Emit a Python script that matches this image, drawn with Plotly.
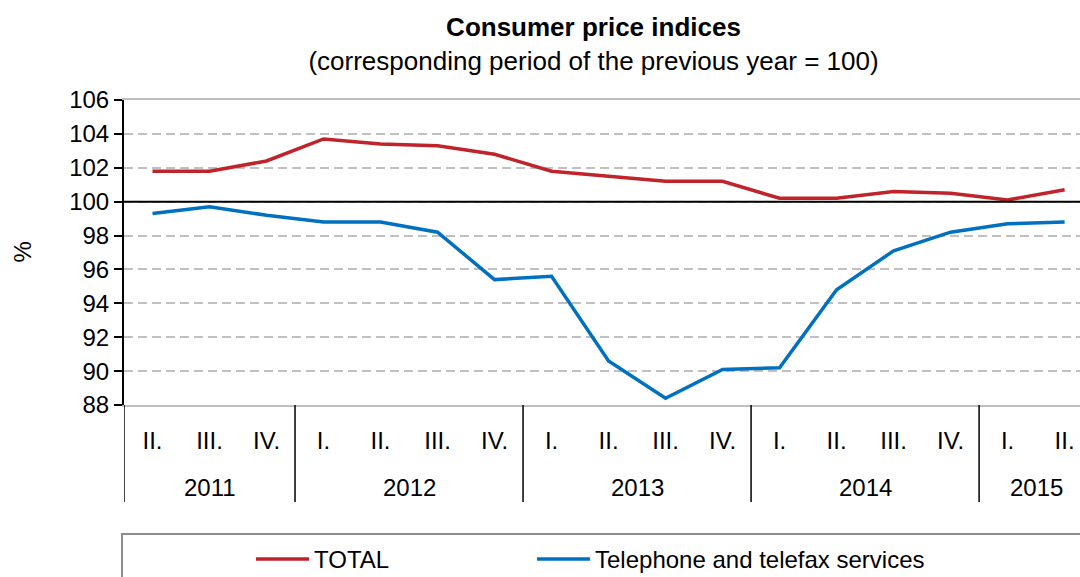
import plotly.graph_objects as go

years = ["2011"] * 3 + ["2012"] * 4 + ["2013"] * 4 + ["2014"] * 4 + ["2015"] * 2
quarters = ["II.", "III.", "IV.",
            "I.", "II.", "III.", "IV.",
            "I.", "II.", "III.", "IV.",
            "I.", "II.", "III.", "IV.",
            "I.", "II."]
total = [101.8, 101.8, 102.4,
         103.7, 103.4, 103.3, 102.8,
         101.8, 101.5, 101.2, 101.2,
         100.2, 100.2, 100.6, 100.5,
         100.1, 100.7]
telephone = [99.3, 99.7, 99.2,
             98.8, 98.8, 98.2, 95.4,
             95.6, 90.6, 88.4, 90.1,
             90.2, 94.8, 97.1, 98.2,
             98.7, 98.8]
y_ticks = list(range(88, 107, 2))

FONT = "Liberation Sans, Arial, sans-serif"
FS = 24
RED = "#C1232B"
BLUE = "#0070C0"

W, H = 1080, 577
PLOT_L, PLOT_T, PLOT_B = 124, 100, 405
PH = PLOT_B - PLOT_T
PW = W - PLOT_L

idx = list(range(len(quarters)))

fig = go.Figure()
fig.add_trace(go.Scatter(x=idx, y=total, mode="lines", name="TOTAL",
                         line=dict(color=RED, width=3.5), legend="legend"))
fig.add_trace(go.Scatter(x=idx, y=telephone, mode="lines",
                         name="Telephone and telefax services",
                         line=dict(color=BLUE, width=3.5), legend="legend2"))

# year groups: dividers and labels
groups = []
for i, yv in enumerate(years):
    if not groups or groups[-1][0] != yv:
        groups.append([yv, i, i])
    else:
        groups[-1][2] = i

div_bottom = -97 / PH
for yv, i0, i1 in groups:
    fig.add_shape(type="line", xref="x", yref="paper", x0=i0 - 0.5, x1=i0 - 0.5,
                  y0=0, y1=div_bottom, line=dict(color="black", width=1.5))
    fig.add_annotation(x=(i0 + i1) / 2, xref="x", y=-82 / PH, yref="paper",
                       text=yv, showarrow=False, xanchor="center", yanchor="middle",
                       font=dict(family=FONT, size=FS, color="black"))

# reference line at 100
fig.add_shape(type="line", xref="paper", x0=0, x1=1, yref="y", y0=100, y1=100,
              line=dict(color="black", width=2), layer="above")
# legend frame
fig.add_shape(type="rect", xref="paper", yref="paper",
              x0=-2 / PW, x1=1.02, y0=-0.7, y1=-129 / PH,
              line=dict(color="#8C8C8C", width=2), fillcolor="rgba(0,0,0,0)")

# y-axis title
fig.add_annotation(x=-(124 - 22) / PW, xref="paper", y=0.5, yref="paper", text="%",
                   textangle=-90, showarrow=False, xanchor="center", yanchor="middle",
                   font=dict(family=FONT, size=FS, color="black"))

leg_common = dict(orientation="h", yanchor="top", y=-132 / PH, xanchor="left",
                  font=dict(family=FONT, size=FS, color="black"), itemwidth=53,
                  bgcolor="rgba(0,0,0,0)", borderwidth=0)

fig.update_layout(
    width=W, height=H,
    paper_bgcolor="white", plot_bgcolor="white",
    margin=dict(l=PLOT_L, r=0, t=PLOT_T, b=H - PLOT_B, autoexpand=False),
    font=dict(family=FONT, size=FS, color="black"),
    title=dict(text="<b>Consumer price indices</b><br>(corresponding period of the previous year = 100)",
               x=593.5 / W, xanchor="center", xref="container",
               y=1 - 36 / H, yanchor="top", yref="container", automargin=False,
               font=dict(family=FONT, size=26, color="black")),
    showlegend=True,
    legend=dict(x=(257 - 6 - PLOT_L) / PW, **leg_common),
    legend2=dict(x=(538 - 6 - PLOT_L) / PW, **leg_common),
    xaxis=dict(range=[-0.5, 16.27], automargin=False,
               tickvals=idx, ticktext=quarters,
               showline=True, linecolor="#BFBFBF", linewidth=2, mirror=True,
               showgrid=False, zeroline=False,
               ticks="outside", ticklen=13, tickcolor="rgba(0,0,0,0)",
               tickfont=dict(family=FONT, size=FS)),
    yaxis=dict(range=[88, 106], tickvals=y_ticks, automargin=False,
               showline=True, linecolor="black", linewidth=2,
               ticks="outside", ticklen=8, tickcolor="black", tickwidth=1.5,
               showgrid=True, gridcolor="#C0C0C0", griddash="9px,5px", gridwidth=2,
               zeroline=False, tickfont=dict(family=FONT, size=FS)),
)

# remove the page's default 8px body margin so the figure fills the window exactly
fig.write_html("out.html", config={"displayModeBar": False},
               post_script="document.body.style.margin='0px';")
